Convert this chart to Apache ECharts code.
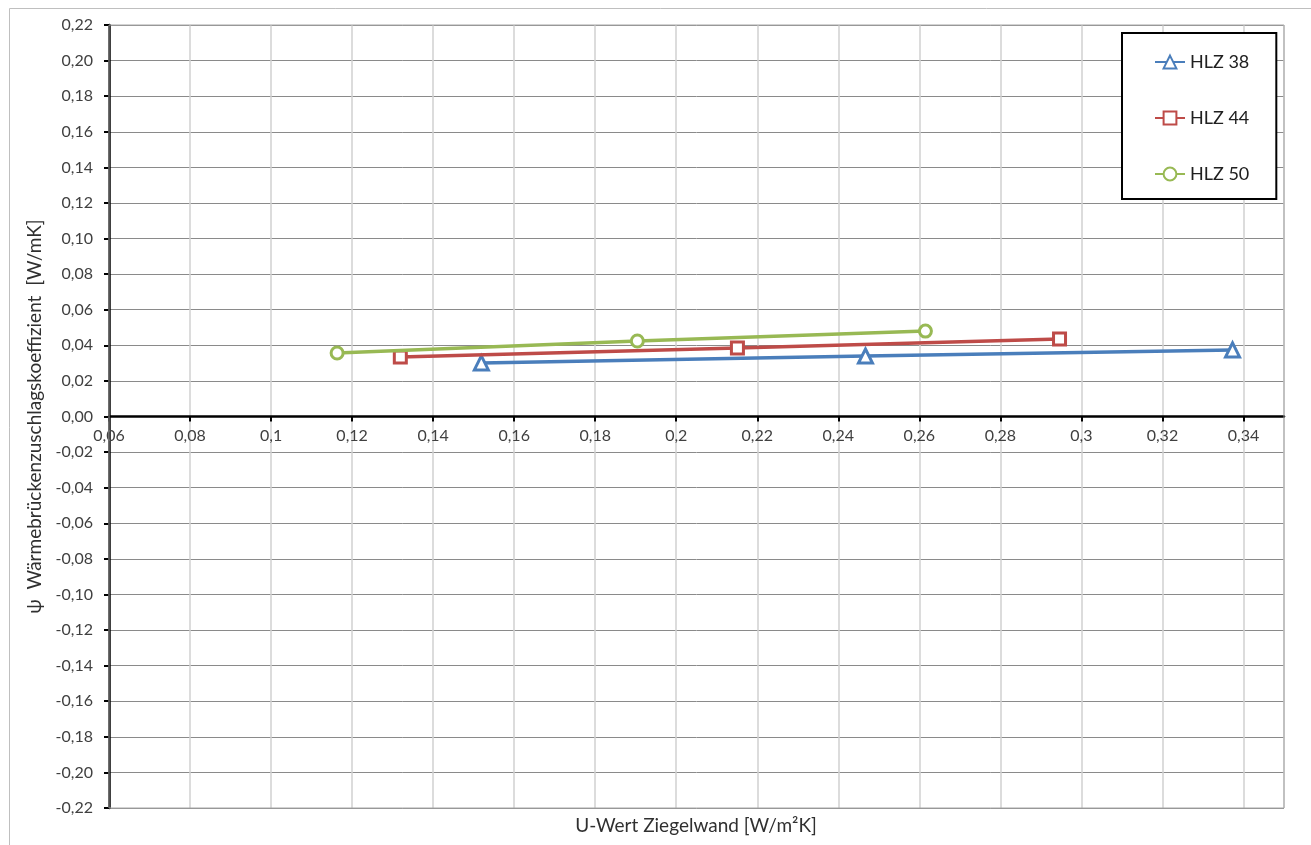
<!DOCTYPE html>
<html>
<head>
<meta charset="utf-8">
<script src="https://cdn.jsdelivr.net/npm/echarts@6/dist/echarts.min.js"></script>
<style>
html,body{margin:0;padding:0;background:#fff;}
#chart{width:1311px;height:845px;}
</style>
</head>
<body>
<div id="chart"></div>
<script>
// Data
const seriesNames = ['HLZ 38', 'HLZ 44', 'HLZ 50'];
const hlz38 = [[0.1519, 0.0301], [0.2467, 0.0340], [0.3373, 0.0374]];
const hlz44 = [[0.1319, 0.0334], [0.2151, 0.0385], [0.2946, 0.0436]];
const hlz50 = [[0.1163, 0.0357], [0.1904, 0.0424], [0.2615, 0.0480]];
const xTitle = 'U-Wert Ziegelwand [W/m²K]';
const yTitle = 'ψ  Wärmebrückenzuschlagskoeffizient  [W/mK]';

const FONT = 'Lato, "Open Sans", sans-serif';
const colors = ['#4a7ebb', '#be4b48', '#98b954'];
const symbols = ['triangle', 'rect', 'circle'];
const datasets = [hlz38, hlz44, hlz50];

const chart = echarts.init(document.getElementById('chart'), null, {renderer: 'canvas'});

const series = datasets.map((d, i) => ({
  name: seriesNames[i],
  type: 'line',
  data: d,
  symbol: symbols[i],
  symbolSize: i === 0 ? 14 : 12,
  showAllSymbol: true,
  lineStyle: {color: colors[i], width: 3.5},
  itemStyle: {color: '#fff', borderColor: colors[i], borderWidth: 3},
  emphasis: {disabled: true},
  z: 3 + i
}));

const option = {
  animation: false,
  backgroundColor: '#fff',
  grid: {left: 109, right: 27, top: 25, bottom: 37, show: false},
  xAxis: {
    type: 'value',
    min: 0.06, max: 0.35, interval: 0.02,
    position: 'bottom',
    offset: 0,
    axisLine: {show: true, onZero: false, lineStyle: {color: '#000', width: 2.5}},
    axisTick: {show: true, inside: false, length: 5, lineStyle: {color: '#000', width: 2}},
    axisLabel: {
      show: true, margin: 11, color: '#404040', fontSize: 16, fontFamily: FONT,
      showMaxLabel: false,
      formatter: v => String(parseFloat(v.toFixed(2))).replace('.', ',')
    },
    splitLine: {show: true, lineStyle: {color: '#d0d0d0', width: 1.5}}
  },
  yAxis: {
    type: 'value',
    min: -0.22, max: 0.22, interval: 0.02,
    name: yTitle,
    nameLocation: 'middle',
    nameGap: 54,
    nameRotate: 90,
    nameTextStyle: {color: '#303030', fontSize: 19, fontFamily: FONT},
    axisLine: {show: true, onZero: false, lineStyle: {color: '#000', width: 2.5}},
    axisTick: {show: true, inside: false, length: 5, lineStyle: {color: '#000', width: 2}},
    axisLabel: {
      margin: 16, color: '#404040', fontSize: 16, fontFamily: FONT,
      formatter: v => (Math.abs(v) < 1e-9 ? 0 : v).toFixed(2).replace('.', ',')
    },
    splitLine: {show: true, lineStyle: {color: '#8a8a8a', width: 1}}
  },
  legend: {
    orient: 'vertical',
    left: 1122, top: 33,
    padding: [20, 27, 16, 32],
    itemWidth: 30, itemHeight: 16, itemGap: 38,
    borderColor: '#000', borderWidth: 2,
    backgroundColor: '#fff',
    textStyle: {color: '#202020', fontSize: 18, fontFamily: FONT},
    data: seriesNames,
    z: 10
  },
  graphic: [
    {
      type: 'rect', silent: true, z: -10,
      shape: {x: 9.5, y: 8.5, width: 1320, height: 860},
      style: {fill: 'none', stroke: '#bfbfbf', lineWidth: 1}
    },
    {
      type: 'rect', silent: true, z: 1,
      shape: {x: 109, y: 25, width: 1175, height: 783},
      style: {fill: 'none', stroke: '#a6a6a6', lineWidth: 1}
    },
    {
      type: 'text', silent: true,
      x: 696, y: 826,
      style: {text: xTitle, fill: '#303030', fontSize: 19, fontFamily: FONT, align: 'center', verticalAlign: 'middle'}
    }
  ],
  series: series
};
chart.setOption(option);

// Move the x axis (line, ticks, labels) onto y = 0 using the library's own scale
const yZero = chart.convertToPixel({yAxisIndex: 0}, 0);
const yMin = chart.convertToPixel({yAxisIndex: 0}, -0.22);
chart.setOption({xAxis: {offset: -(yMin - yZero)}});
</script>
</body>
</html>
